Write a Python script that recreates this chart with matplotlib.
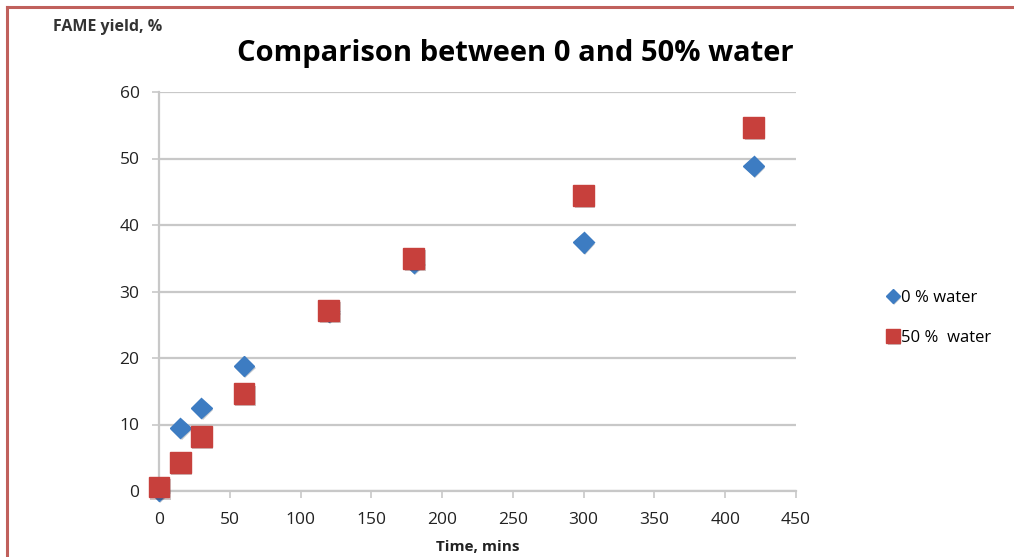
import matplotlib
matplotlib.use("Agg")
import matplotlib.pyplot as plt
from matplotlib.lines import Line2D
import matplotlib.patheffects as pe

# Reaction time (minutes) and FAME yield (%)
time_min = [0, 15, 30, 60, 120, 180, 300, 420]
yield_0_water = [0.0, 9.5, 12.5, 18.8, 27.0, 34.3, 37.4, 48.9]
yield_50_water = [0.6, 4.3, 8.2, 14.6, 27.2, 35.0, 44.4, 54.6]

series_labels = ["0 % water", "50 %  water"]
x_ticks = [0, 50, 100, 150, 200, 250, 300, 350, 400, 450]
y_ticks = [0, 10, 20, 30, 40, 50, 60]

plt.rcParams["font.family"] = ["Open Sans", "DejaVu Sans"]

W, H = 1014, 557
fig = plt.figure(figsize=(W / 100, H / 100), dpi=100)
ax = fig.add_axes([159 / W, 66 / H, (796 - 159) / W, (491 - 92) / H])

blue = "#3d7cc2"
red = "#c7403c"
grid_c = "#c8c8c8"
shadow = [pe.SimplePatchShadow(offset=(1, -1.5), alpha=0.25), pe.Normal()]

ax.plot(time_min, yield_0_water, linestyle="none", marker="D", markersize=10.5,
        color=blue, markeredgecolor=blue, label=series_labels[0], zorder=3,
        clip_on=False, path_effects=shadow)
ax.plot(time_min, yield_50_water, linestyle="none", marker="s", markersize=15,
        color=red, markeredgecolor=red, label=series_labels[1], zorder=4,
        clip_on=False, path_effects=shadow)

ax.set_xlim(0, 450)
ax.set_ylim(0, 60)
ax.set_xticks(x_ticks)
ax.set_yticks(y_ticks)
ax.tick_params(axis="both", labelsize=12.5, colors="#222222", length=5,
               width=1.2)
ax.tick_params(axis="x", pad=10)
ax.tick_params(axis="y", pad=9)
ax.tick_params(axis="both", color=grid_c)
ax.yaxis.grid(True, color=grid_c, linewidth=1.6)
ax.set_axisbelow(True)
for side in ("top", "right"):
    ax.spines[side].set_visible(False)
for side in ("left", "bottom"):
    ax.spines[side].set_color(grid_c)
    ax.spines[side].set_linewidth(1.6)
ax.spines["bottom"].set_zorder(2)

fig.text(515 / W, 1 - 53 / H, "Comparison between 0 and 50% water",
         ha="center", va="center", fontsize=21, fontweight="bold")
fig.text(108 / W, 1 - 27 / H, "FAME yield, %", ha="center", va="center",
         fontsize=11.5, fontweight="bold", color="#333333")
fig.text(478 / W, 1 - 547 / H, "Time, mins", ha="center", va="center",
         fontsize=11, fontweight="bold", color="#222222")

leg = ax.legend(loc="center left", bbox_to_anchor=(873 / W, 1 - 318 / H),
                bbox_transform=fig.transFigure, frameon=False, fontsize=12,
                handlelength=0.6, handletextpad=0.2, labelspacing=1.45,
                markerscale=0.65)

# Red frame along the top and left edges
frame_c = "#c0605c"
fig.add_artist(Line2D([7 / W, 7 / W], [0, 1 - 7 / H], color=frame_c,
                      linewidth=2.2, transform=fig.transFigure))
fig.add_artist(Line2D([7 / W, 1], [1 - 7 / H, 1 - 7 / H], color=frame_c,
                      linewidth=2.2, transform=fig.transFigure))

fig.savefig("out.png", dpi=100)
